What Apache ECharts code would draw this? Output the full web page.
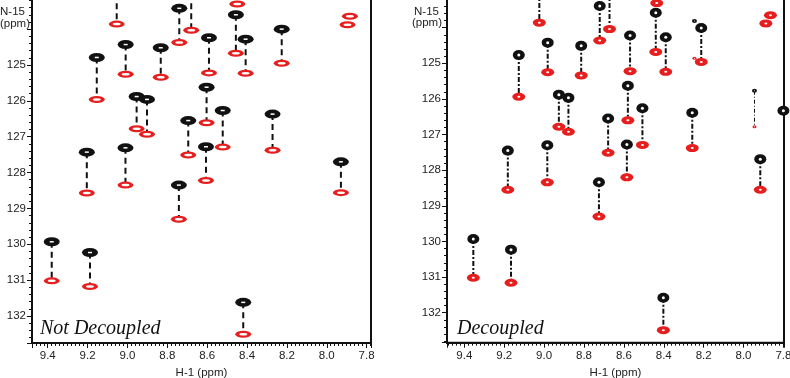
<!DOCTYPE html>
<html><head><meta charset="utf-8">
<script src="https://cdn.jsdelivr.net/npm/echarts@6/dist/echarts.min.js"></script>
<style>html,body{margin:0;padding:0;background:#fff}#c{width:790px;height:378px}</style>
</head><body><div id="c"></div>
<script>
// ---------- DATA (ppm) ----------
// Left panel: Not Decoupled. H-1 shift, N-15 of black peak, N-15 of red peak (null = not visible)
const leftH      = [9.054, 8.740, 8.680, 8.449, 8.456, 8.407, 8.226, 7.884, 7.896, 9.009, 8.833, 9.154, 8.591, 8.954, 8.902, 8.603, 8.695, 8.522, 8.272, 9.204, 9.010, 8.606, 8.742, 7.929, 9.380, 9.188, 8.419];
const leftBlackN = [123.00, 123.42, 123.00, null, 123.60, 124.28, 124.00, null, null, 124.43, 124.52, 124.79, 124.24, 125.88, 125.96, 125.62, 126.55, 126.27, 126.37, 127.43, 127.31, 127.28, 128.35, 127.70, 129.93, 130.23, 131.62];
const leftRedN   = [123.86, 124.37, 124.03, 123.30, 124.67, 125.23, 124.95, 123.64, 123.88, 125.26, 125.34, 125.96, 125.22, 126.78, 126.93, 126.61, 127.51, 127.29, 127.38, 128.57, 128.35, 128.22, 129.30, 128.56, 131.02, 131.18, 132.51];

// Right panel: Decoupled
const rightH      = [9.024, 8.721, 8.672, 8.435, 8.440, 8.390, 8.212, 7.865, 7.888, 8.982, 8.814, 9.127, 8.569, 8.926, 8.878, 8.580, 8.679, 8.507, 8.257, 9.182, 8.984, 8.585, 8.725, 7.916, 9.355, 9.166, 8.402, 7.800];
const rightBlackN = [123.00, 123.39, 123.00, null, 123.58, 124.27, 124.01, null, null, 124.42, 124.51, 124.77, 124.22, 125.88, 125.97, 125.63, 126.55, 126.26, 126.39, 127.45, 127.30, 127.28, 128.34, 127.69, 129.93, 130.23, 131.58, 126.33];
const rightRedN   = [123.86, 124.36, 124.04, 123.31, 124.68, 125.24, 124.96, 123.65, 123.88, 125.25, 125.34, 125.94, 125.22, 126.78, 126.92, 126.60, 127.51, 127.29, 127.38, 128.55, 128.34, 128.20, 129.30, 128.55, 131.02, 131.16, 132.49, null];
// weak peaks in the decoupled spectrum
const rightWeakH      = [7.945, 8.246];
const rightWeakBlackN = [125.77, 123.81];
const rightWeakRedN   = [126.78, 124.86];
const rightWeakLinked = [true, false];

// axis extents (ppm)
const leftXRange  = [7.778, 9.479];
const leftYRange  = [123.076, 132.753];
const rightXRange = [7.797, 9.487];
const rightYRange = [123.111, 132.842];
const xAxisName = 'H-1 (ppm)';
const panelTitles = ['Not Decoupled', 'Decoupled'];

// ---------- CHART ----------
const BLACK = '#111111', RED = '#e61e1e';
const ELLIPSE = 'path://M0,5A10,5,0,1,1,20,5A10,5,0,1,1,0,5Z';
const FONT = 'Liberation Sans, Arial, sans-serif';

function pts(H, N) {
  const out = [];
  H.forEach((h, i) => { if (N[i] != null) out.push([h, N[i]]); });
  return out;
}
function links(H, B, R, mask) {
  const out = [];
  H.forEach((h, i) => { if (B[i] != null && R[i] != null && (!mask || mask[i])) out.push([h, B[i], R[i]]); });
  return out;
}
function lineSeries(gi, data, dash, width) {
  return {
    type: 'custom', xAxisIndex: gi, yAxisIndex: gi, z: 1, clip: true, silent: true,
    data: data, encode: { x: 0, y: [1, 2] },
    renderItem: function (params, api) {
      const p1 = api.coord([api.value(0), api.value(1)]);
      const p2 = api.coord([api.value(0), api.value(2)]);
      return { type: 'line', shape: { x1: p1[0], y1: p1[1], x2: p2[0], y2: p2[1] },
        style: { stroke: BLACK, lineWidth: width, lineDash: dash } };
    }
  };
}
function peakSeries(gi, data, color, size, inner, innerSymbol) {
  return [
    { type: 'scatter', xAxisIndex: gi, yAxisIndex: gi, z: 2, silent: true, data: data,
      symbol: ELLIPSE, symbolSize: size, itemStyle: { color: color, opacity: 1 } },
    { type: 'scatter', xAxisIndex: gi, yAxisIndex: gi, z: 3, silent: true, data: data,
      symbol: innerSymbol, symbolSize: inner, itemStyle: { color: '#ffffff', opacity: 1 } }
  ];
}

function xAxis(gi, range) {
  return {
    type: 'value', gridIndex: gi, inverse: true, min: range[0], max: range[1], splitNumber: 8,
    splitLine: { show: false },
    axisLine: { onZero: false, lineStyle: { color: BLACK, width: 2 } },
    axisTick: { length: 5, lineStyle: { color: BLACK, width: 1 } },
    minorTick: { show: true, splitNumber: 10, length: 3, lineStyle: { color: BLACK, width: 1 } },
    axisLabel: { color: '#222', fontSize: 11.5, fontFamily: FONT, margin: 7, hideOverlap: false,
      formatter: v => Math.abs(v * 5 - Math.round(v * 5)) < 1e-6 ? v.toFixed(1) : '' },
    name: xAxisName, nameLocation: 'middle', nameGap: 21,
    nameTextStyle: { color: '#222', fontSize: 11.5, fontFamily: FONT }
  };
}
function yAxis(gi, range) {
  return {
    type: 'value', gridIndex: gi, inverse: true, min: range[0], max: range[1], splitNumber: 10,
    splitLine: { show: false },
    axisLine: { onZero: false, lineStyle: { color: BLACK, width: 2 } },
    axisTick: { length: 5, lineStyle: { color: BLACK, width: 1 } },
    minorTick: { show: true, splitNumber: 5, length: 3, lineStyle: { color: BLACK, width: 1 } },
    axisLabel: { color: '#222', fontSize: 11.5, fontFamily: FONT, margin: 6,
      formatter: v => (v >= 124.5 && Math.abs(v - Math.round(v)) < 1e-6) ? String(Math.round(v)) : '' }
  };
}

const chart = echarts.init(document.getElementById('c'), null, { renderer: 'canvas' });
const series = [].concat(
  lineSeries(0, links(leftH, leftBlackN, leftRedN), [6, 4], 2),
  peakSeries(0, pts(leftH, leftBlackN), BLACK, [16, 9], [4, 1.5], 'rect'),
  peakSeries(0, pts(leftH, leftRedN), RED, [16, 7], [8, 2.5], ELLIPSE),
  lineSeries(1, links(rightH, rightBlackN, rightRedN), [5, 2, 2, 2], 2),
  lineSeries(1, links(rightWeakH, rightWeakBlackN, rightWeakRedN, rightWeakLinked), [4, 2, 1, 2], 1),
  peakSeries(1, pts(rightH, rightBlackN), BLACK, [12, 10], [3, 3], 'circle'),
  peakSeries(1, pts(rightH, rightRedN), RED, [13, 8], [3, 2], 'circle'),
  peakSeries(1, pts(rightWeakH, rightWeakBlackN), BLACK, [5, 4], [1, 1], 'circle'),
  peakSeries(1, pts(rightWeakH, rightWeakRedN), RED, [4, 3], [1, 1], 'circle')
);

const gridCommon = { show: true, borderColor: BLACK, borderWidth: 2, backgroundColor: 'transparent',
  containLabel: false, outerBoundsMode: 'none' };
const titleFont = 'italic 20px "Liberation Serif", "Times New Roman", serif';
chart.setOption({
  animation: false,
  backgroundColor: '#ffffff',
  grid: [
    Object.assign({ left: 32, top: -4, width: 339, height: 347 }, gridCommon),
    Object.assign({ left: 447, top: -4, width: 337, height: 346.7 }, gridCommon)
  ],
  xAxis: [xAxis(0, leftXRange), xAxis(1, rightXRange)],
  yAxis: [yAxis(0, leftYRange), yAxis(1, rightYRange)],
  graphic: [
    { type: 'text', left: 0, top: 6, style: { text: 'N-15', font: '11.5px ' + FONT, fill: '#222' } },
    { type: 'text', left: 0, top: 18, style: { text: '(ppm)', font: '11.5px ' + FONT, fill: '#222' } },
    { type: 'text', left: 414, top: 6, style: { text: 'N-15', font: '11.5px ' + FONT, fill: '#222' } },
    { type: 'text', left: 412, top: 17, style: { text: '(ppm)', font: '11.5px ' + FONT, fill: '#222' } },
    { type: 'text', left: 40, top: 319, style: { text: panelTitles[0], font: titleFont, fill: '#111' } },
    { type: 'text', left: 457, top: 319, style: { text: panelTitles[1], font: titleFont, fill: '#111' } }
  ],
  series: series
});
</script>
</body></html>
